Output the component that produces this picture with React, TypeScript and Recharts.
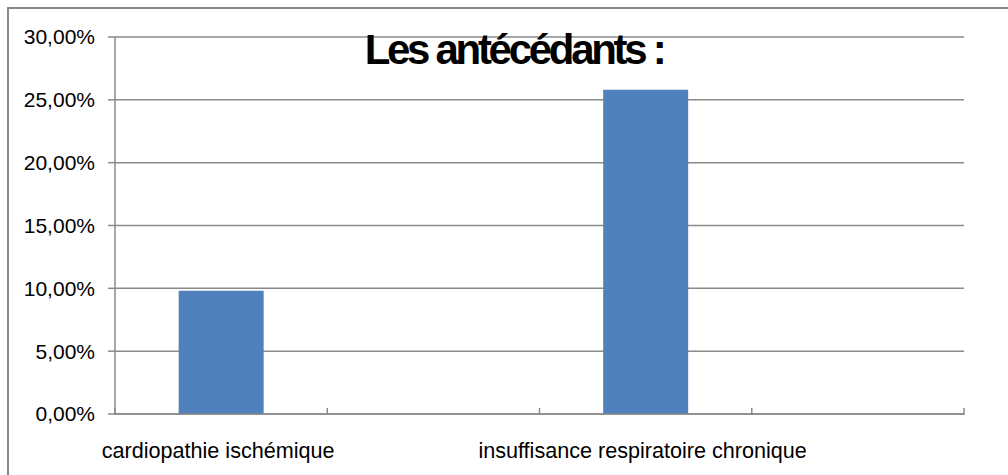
import { BarChart, Bar, XAxis, YAxis, CartesianGrid } from 'recharts';

// Excel-style chart: four categories, only every other label shown
const categories = ['cardiopathie ischémique', '', 'insuffisance respiratoire chronique', ' '];
const values = [0.098, 0, 0.258, 0];
const yTicks = [0, 0.05, 0.1, 0.15, 0.2, 0.25, 0.3];

const data = categories.map((name, i) => ({ name, value: values[i] }));

const FONT = '"Liberation Sans", Arial, sans-serif';
const GRID = '#8a8a8a';

const fmtPct = (v: number) => (v * 100).toFixed(2).replace('.', ',') + '%';

const CategoryTick = (props: any) => {
  const { x, y, payload, index, visibleTicksCount } = props;
  const half = payload?.offset ?? 106;
  const top = y - 14; // axis line position
  return (
    <g>
      <line x1={x - half} x2={x - half} y1={top} y2={top + 7} stroke={GRID} strokeWidth={1.5} />
      {index === visibleTicksCount - 1 && (
        <line x1={x + half} x2={x + half} y1={top} y2={top + 7} stroke={GRID} strokeWidth={1.5} />
      )}
      {index % 2 === 0 && (
        <text x={x - 3} y={top + 50} textAnchor="middle" fill="#000" fontSize={21.6} fontFamily={FONT}>
          {payload.value}
        </text>
      )}
    </g>
  );
};

export default function App() {
  return (
    <div style={{ position: 'absolute', left: 0, top: 0, width: 1008, height: 475, overflow: 'hidden', background: '#fff' }}>
      <div
        style={{
          position: 'absolute',
          left: 7,
          top: 7,
          width: 1020,
          height: 490,
          border: `2px solid ${GRID}`,
          boxSizing: 'border-box',
        }}
      />
      <BarChart
        width={1008}
        height={475}
        data={data}
        margin={{ top: 37, right: 44, bottom: 0, left: 0 }}
        barCategoryGap="30%"
      >
        <CartesianGrid vertical={false} stroke={GRID} strokeWidth={1.5} />
        <XAxis
          dataKey="name"
          interval={0}
          height={61}
          tickLine={false}
          axisLine={{ stroke: GRID, strokeWidth: 1.5 }}
          tick={<CategoryTick />}
        />
        <YAxis
          width={115}
          domain={[0, 0.3]}
          ticks={yTicks}
          tickFormatter={fmtPct}
          tickSize={7}
          tickMargin={13}
          tickLine={{ stroke: GRID, strokeWidth: 1.5 }}
          axisLine={{ stroke: GRID, strokeWidth: 1.5 }}
          tick={{ fill: '#000', fontSize: 21, fontFamily: FONT }}
        />
        <Bar dataKey="value" fill="#4f81bd" isAnimationActive={false} />
      </BarChart>
      <div
        style={{
          position: 'absolute',
          left: 314,
          width: 400,
          top: 29,
          textAlign: 'center',
          fontFamily: FONT,
          fontWeight: 'bold',
          fontSize: 42,
          lineHeight: '42px',
          letterSpacing: -3.3,
          color: '#000',
        }}
      >
        Les antécédants :
      </div>
    </div>
  );
}
